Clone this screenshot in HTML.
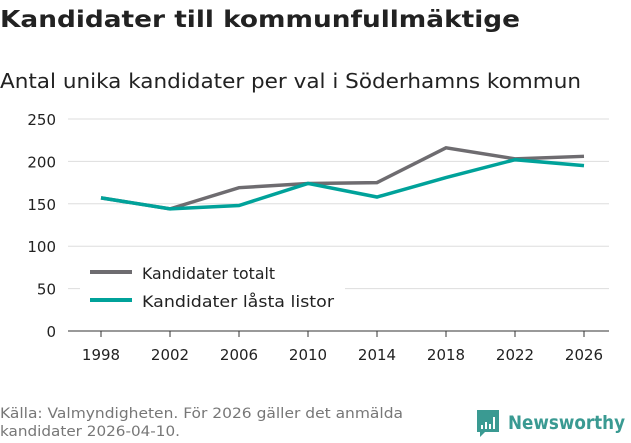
<!DOCTYPE html>
<html><head><meta charset="utf-8"><style>
body{margin:0;width:631px;height:439px;background:#fff;font-family:"DejaVu Sans","Liberation Sans",sans-serif;overflow:hidden}
</style></head><body>
<svg width="631" height="439">
<text x="0" y="27" font-size="23" font-weight="bold" fill="#222" textLength="520" lengthAdjust="spacingAndGlyphs">Kandidater till kommunfullmäktige</text>
<text x="0" y="88" font-size="20" fill="#222" textLength="581" lengthAdjust="spacingAndGlyphs">Antal unika kandidater per val i Söderhamns kommun</text>
<g id="grid"></g><g id="xaxis"></g><g id="series"></g>
<g>
<rect x="80" y="258" width="265" height="60" fill="#fff"/>
<line x1="90" y1="272" x2="132" y2="272" stroke="#6e6c70" stroke-width="4"/>
<text x="142" y="279" font-size="16" fill="#222" textLength="133" lengthAdjust="spacingAndGlyphs">Kandidater totalt</text>
<line x1="90" y1="300" x2="132" y2="300" stroke="#00a29a" stroke-width="4"/>
<text x="142" y="307" font-size="16" fill="#222" textLength="192" lengthAdjust="spacingAndGlyphs">Kandidater låsta listor</text>
</g>
<text x="0" y="418" font-size="14" fill="#777" textLength="403" lengthAdjust="spacingAndGlyphs">Källa: Valmyndigheten. För 2026 gäller det anmälda</text>
<text x="0" y="436" font-size="14" fill="#777" textLength="180" lengthAdjust="spacingAndGlyphs">kandidater 2026-04-10.</text>
<g>
<path d="M477 410 h22 v22 h-14 l-5 5 v-5 h-3 z" fill="#3a9a92"/>
<rect x="481" y="425" width="2" height="4" fill="#fff"/><rect x="485" y="422" width="2" height="7" fill="#fff"/><rect x="489" y="424" width="2" height="5" fill="#fff"/><rect x="493" y="417" width="2" height="12" fill="#fff"/>
<text x="508" y="429" font-size="19" font-weight="bold" fill="#3a9a92" textLength="117" lengthAdjust="spacingAndGlyphs">Newsworthy</text>
</g>
</svg>
<script>
const years=[1998,2002,2006,2010,2014,2018,2022,2026];
const totalt=[157,144,169,174,175,216,203,206];
const lasta=[157,144,148,174,158,181,202,195];
const yTicks=[0,50,100,150,200,250];
const NS="http://www.w3.org/2000/svg";
const x=v=>101+(v-1998)*(584-101)/28;
const y=v=>331-v*(331-119)/250;
function mk(t,a,p){const e=document.createElementNS(NS,t);for(const k in a)e.setAttribute(k,a[k]);p.appendChild(e);return e;}
const grid=document.getElementById('grid');
yTicks.forEach(t=>{
 const l=mk('line',{x1:68,x2:609,y1:y(t),y2:y(t),stroke:t===0?'#333':'#ddd','stroke-width':1},grid);
 
 
 const tx=mk('text',{x:56,y:y(t)+6,'text-anchor':'end','font-size':15,fill:'#222'},grid);tx.textContent=t;
 
 
});
const xa=document.getElementById('xaxis');
years.forEach(yr=>{
 const l=mk('line',{x1:x(yr),x2:x(yr),y1:331,y2:337,stroke:'#333'},xa);
 
 
 const tx=mk('text',{x:x(yr),y:360,'text-anchor':'middle','font-size':15,fill:'#222'},xa);tx.textContent=yr;
 
 
});
const s=document.getElementById('series');
[[totalt,'#6e6c70','line-totalt'],[lasta,'#00a29a','line-lasta']].forEach(([d,c,n])=>{
 const p=mk('polyline',{points:d.map((v,i)=>x(years[i])+','+y(v)).join(' '),fill:'none',stroke:c,'stroke-width':3.5},s);
 
 
});
</script>
</body></html>
